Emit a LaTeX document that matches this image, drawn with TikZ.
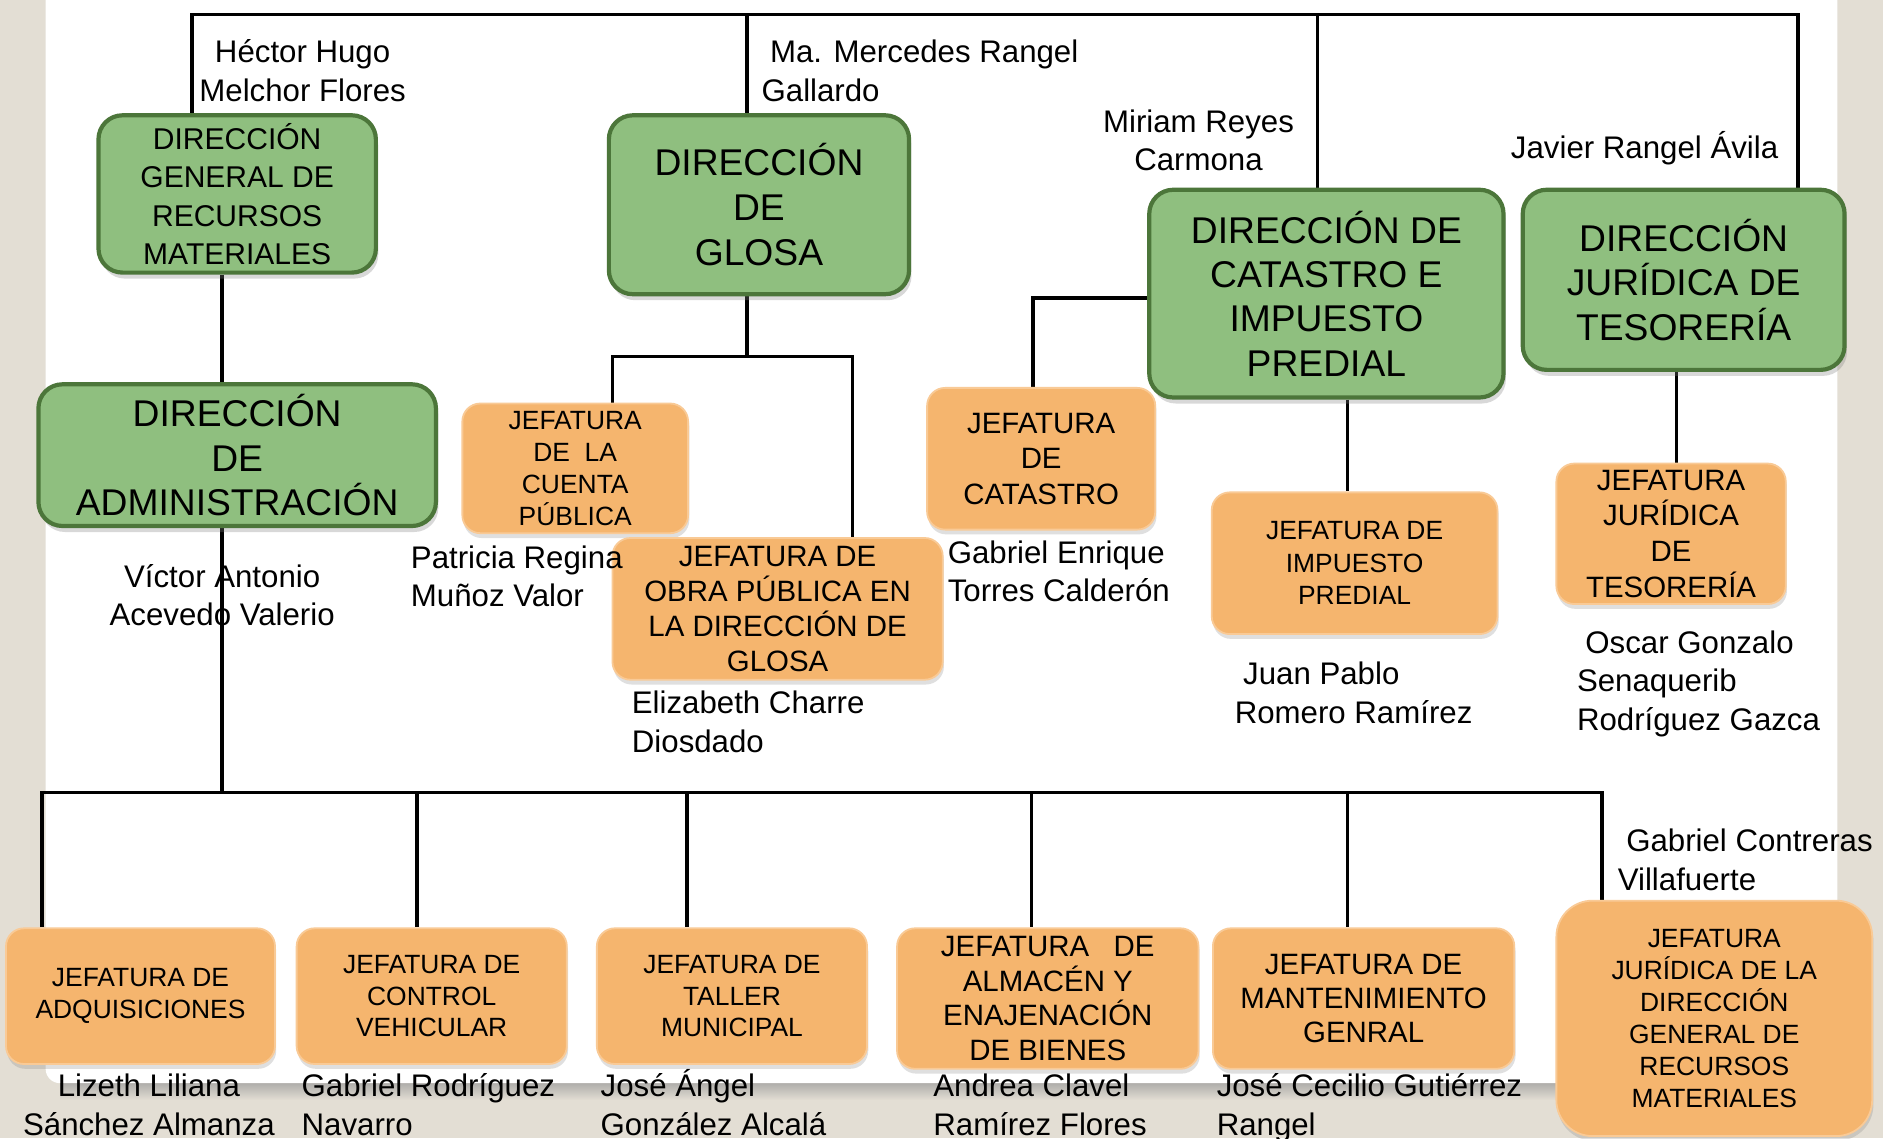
\documentclass[tikz,border=0pt]{standalone}
\usepackage{fontspec}
\setmainfont{Liberation Sans}
\usetikzlibrary{shadows}
\definecolor{beige}{RGB}{227,222,212}
\definecolor{gfill}{RGB}{143,191,127}
\definecolor{gedge}{RGB}{76,118,58}
\definecolor{ofill}{RGB}{245,181,110}
\definecolor{oedge}{RGB}{249,202,150}
\pgfdeclarelayer{page}
\pgfdeclarelayer{lines}
\pgfsetlayers{page,lines,main}
\newcommand\nmtop{\rule{0pt}{26pt}}
\tikzset{
  gbox/.style={rectangle, rounded corners=20pt, fill=gfill, draw=gedge, line width=3.5pt,
    inner sep=0pt, align=center,
    drop shadow={shadow xshift=2pt, shadow yshift=-5pt, opacity=0.3}},
  obox/.style={rectangle, rounded corners=15pt, fill=ofill, draw=oedge, line width=1.5pt,
    inner sep=0pt, align=center,
    drop shadow={shadow xshift=1pt, shadow yshift=-4pt, opacity=0.25}},
  nm/.style={inner sep=0pt, font=\fontsize{26}{32}\selectfont},
  nml/.style={nm, align=left, anchor=north west},
  nmc/.style={nm, align=center, anchor=north},
  conn/.style={draw=black, line width=3pt, line join=miter}
}
\begin{document}
\begin{tikzpicture}[x=1pt,y=-1pt]
\useasboundingbox (0,0) rectangle (1568,948);
\begin{pgfonlayer}{page}
\fill[beige] (0,0) rectangle (1568,948);
\shade[top color=black!40, bottom color=beige] (50,896) rectangle (1530,916);
\fill[white, rounded corners=12pt] (38,-30) rectangle (1530,902);
\end{pgfonlayer}

% green boxes
\node[gbox, minimum width=231pt, minimum height=131pt, font=\fontsize{25}{32}\selectfont] (dgrm) at (197.5,161.5) {DIRECCIÓN\\GENERAL DE\\RECURSOS\\MATERIALES};
\node[gbox, minimum width=250pt, minimum height=149pt, font=\fontsize{31}{37.5}\selectfont] (glosa) at (632,170.5) {DIRECCIÓN\\DE\\GLOSA};
\node[gbox, minimum width=295pt, minimum height=173pt, font=\fontsize{31}{37}\selectfont] (dcat) at (1104.5,244.5) {DIRECCIÓN DE\\CATASTRO E\\IMPUESTO\\PREDIAL};
\node[gbox, minimum width=268pt, minimum height=150pt, font=\fontsize{31}{37}\selectfont] (djur) at (1402,233) {DIRECCIÓN\\JURÍDICA DE\\TESORERÍA};
\node[gbox, minimum width=331pt, minimum height=118pt, font=\fontsize{31}{37}\selectfont] (admin) at (197.5,379) {DIRECCIÓN\\DE\\ADMINISTRACIÓN};

% orange boxes, middle
\node[obox, minimum width=188pt, minimum height=108pt, font=\fontsize{22}{26.7}\selectfont] (jcp) at (479,390) {JEFATURA\\DE\ \ LA\\CUENTA\\PÚBLICA};
\node[obox, minimum width=275pt, minimum height=118pt, font=\fontsize{24.5}{29.3}\selectfont] (jobra) at (647.5,507) {JEFATURA DE\\OBRA PÚBLICA EN\\LA DIRECCIÓN DE\\GLOSA};
\node[obox, minimum width=190pt, minimum height=118pt, font=\fontsize{24.5}{29.5}\selectfont] (jcat) at (867,382) {JEFATURA\\DE\\CATASTRO};
\node[obox, minimum width=238pt, minimum height=118pt, font=\fontsize{22}{27}\selectfont] (jimp) at (1128,469) {JEFATURA DE\\IMPUESTO\\PREDIAL};
\node[obox, minimum width=191pt, minimum height=117pt, font=\fontsize{24.5}{29.7}\selectfont] (jjt) at (1391.5,444.5) {JEFATURA\\JURÍDICA\\DE\\TESORERÍA};

% orange boxes, bottom row
\node[obox, minimum width=224pt, minimum height=113pt, font=\fontsize{22}{27}\selectfont] (jadq) at (117,829.5) {JEFATURA DE\\ADQUISICIONES};
\node[obox, minimum width=225pt, minimum height=113pt, font=\fontsize{22}{26.5}\selectfont] (jcv) at (359.5,829.5) {JEFATURA DE\\CONTROL\\VEHICULAR};
\node[obox, minimum width=225pt, minimum height=113pt, font=\fontsize{22}{26.5}\selectfont] (jtal) at (609.5,829.5) {JEFATURA DE\\TALLER\\MUNICIPAL};
\node[obox, minimum width=251pt, minimum height=117pt, font=\fontsize{24.5}{29}\selectfont] (jalm) at (872.5,831.5) {JEFATURA\ \ \ DE\\ALMACÉN Y\\ENAJENACIÓN\\DE BIENES};
\node[obox, minimum width=251pt, minimum height=117pt, font=\fontsize{24.5}{28.5}\selectfont] (jman) at (1135.5,831.5) {JEFATURA DE\\MANTENIMIENTO\\GENRAL};
\node[obox, rounded corners=30pt, minimum width=263pt, minimum height=196pt, font=\fontsize{22}{26.6}\selectfont] (jjdg) at (1427.5,848) {JEFATURA\\JURÍDICA DE LA\\DIRECCIÓN\\GENERAL DE\\RECURSOS\\MATERIALES};

% names
\node[nmc] (n1) at (252,26) {\nmtop Héctor Hugo\\Melchor Flores};
\node[nml] (n2) at (634,26) {\nmtop\hspace*{7pt}Ma. Mercedes Rangel\\Gallardo};
\node[nmc] (n3) at (998,84) {\nmtop Miriam Reyes\\Carmona};
\node[nml] (n4) at (1258,106) {\nmtop Javier Rangel Ávila};
\node[nmc] (n5) at (185,463) {\nmtop Víctor Antonio\\Acevedo Valerio};
\node[nml] (n6) at (342,447) {\nmtop Patricia Regina\\Muñoz Valor};
\node[nml] (n7) at (526,568) {\nmtop Elizabeth Charre\\Diosdado};
\node[nml] (n8) at (789,443) {\nmtop Gabriel Enrique\\Torres Calderón};
\node[nml] (n9) at (1028,544) {\nmtop\hspace*{7pt}Juan Pablo\\Romero Ramírez};
\node[nml] (n10) at (1313,518) {\nmtop\hspace*{7pt}Oscar Gonzalo\\Senaquerib\\Rodríguez Gazca};
\node[nml] (n11) at (1347,683) {\nmtop\hspace*{7pt}Gabriel Contreras\\Villafuerte};
\node[nmc] (n12) at (124,887) {\nmtop Lizeth Liliana\\Sánchez Almanza};
\node[nml] (n13) at (251,887) {\nmtop Gabriel Rodríguez\\Navarro};
\node[nml] (n14) at (500,887) {\nmtop José Ángel\\González Alcalá};
\node[nml] (n15) at (777,887) {\nmtop Andrea Clavel\\Ramírez Flores};
\node[nml] (n16) at (1013,887) {\nmtop José Cecilio Gutiérrez\\Rangel};

% connector coordinates
\coordinate (cT1) at (160,12);
\coordinate (cT2) at (622,12);
\coordinate (cT3) at (1097,12);
\coordinate (cT4) at (1497,12);
\coordinate (xA) at (185,660);
\coordinate (b1) at (35,660);
\coordinate (b2) at (347,660);
\coordinate (b3) at (572,660);
\coordinate (b4) at (859,660);
\coordinate (b5) at (1122,660);
\coordinate (b6) at (1334,660);
\coordinate (g0) at (622,297);
\coordinate (g1) at (510,297);
\coordinate (g2) at (710,297);
\coordinate (c1) at (860,248);
\coordinate (c2) at (1122,300);
\coordinate (c3) at (1396,300);

\begin{pgfonlayer}{lines}
\draw[conn] (dgrm.north -| cT1) -- (cT1) -- (cT4) -- (djur.north -| cT4);
\draw[conn] (cT2) -- (glosa.north -| cT2);
\draw[conn] (cT3) -- (dcat.north -| cT3);
\draw[conn] (dgrm.south -| xA) -- (admin.north -| xA);
\draw[conn] (admin.south -| xA) -- (xA);
\draw[conn] (jadq.north -| b1) -- (b1) -- (b6) -- (jjdg.north -| b6);
\draw[conn] (b2) -- (jcv.north -| b2);
\draw[conn] (b3) -- (jtal.north -| b3);
\draw[conn] (b4) -- (jalm.north -| b4);
\draw[conn] (b5) -- (jman.north -| b5);
\draw[conn] (glosa.south -| g0) -- (g0);
\draw[conn] (jcp.north -| g1) -- (g1) -- (g2) -- (jobra.north -| g2);
\draw[conn] (dcat.west |- c1) -- (c1) -- (jcat.north -| c1);
\draw[conn] (dcat.south -| c2) -- (jimp.north -| c2);
\draw[conn] (djur.south -| c3) -- (jjt.north -| c3);
\end{pgfonlayer}
\end{tikzpicture}
\end{document}
